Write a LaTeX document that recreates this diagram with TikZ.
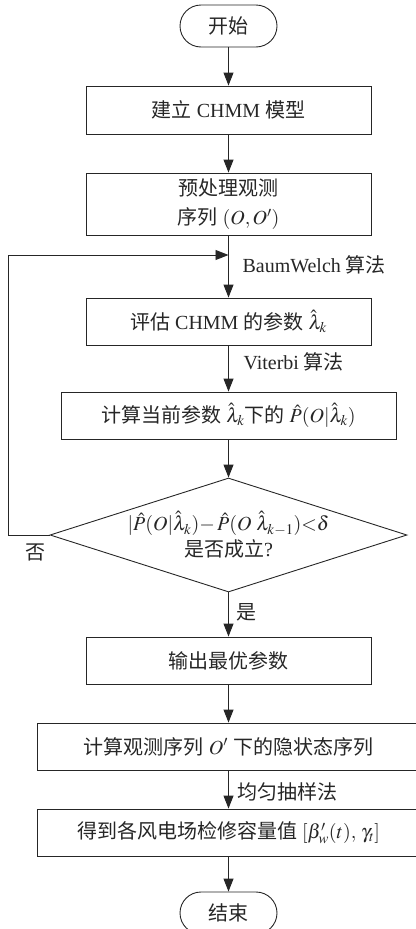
\documentclass[tikz,border=0pt]{standalone}
\usepackage{mathptmx}
\usepackage[no-math]{fontspec}
\setmainfont{Liberation Serif}
\newfontfamily\cjk{Noto Sans CJK SC}
\newcommand{\zh}[1]{{\cjk #1}}
\usetikzlibrary{shapes.geometric}
\usetikzlibrary{arrows.meta}

\begin{document}
\begin{tikzpicture}[x=1pt, y=-1pt,
	every node/.style={font=\fontsize{20}{29}\selectfont, text=black!85},
	term/.style={draw=black!85, line width=0.9pt, rounded corners=21pt, minimum width=97pt, minimum height=42pt, inner sep=0pt},
	proc/.style={draw=black!85, line width=0.9pt, minimum width=285pt, minimum height=48pt, align=center, inner sep=0pt},
	wide/.style={proc, minimum width=383pt},
	dec/.style={draw=black!85, line width=0.9pt, diamond, aspect=3.13, minimum width=357pt, minimum height=114pt, align=center, inner sep=0pt},
	arr/.style={draw=black!85, line width=0.9pt, -{Triangle[length=13pt,width=10pt]}}]

	\useasboundingbox (0,0) rectangle (415,929);
	% Terminals %
	\node [term] (start) at (228.5,26) {\zh{开始}};
	\node [term] (stop) at (228.5,913) {\zh{结束}};
	% Steps %
	\node [proc] (build) at (228.5,110) {\zh{建立} CHMM \zh{模型}};
	\node [proc, minimum height=62pt] (prep) at (228.5,204) {\zh{预处理观测}\\\zh{序列} $(O,O')$};
	\node [proc, minimum height=47pt] (eval) at (228.5,321.5) {\zh{评估} CHMM \zh{的参数} $\hat{\lambda}_k$};
	\node [proc, minimum width=335pt, minimum height=47pt] (calc) at (228.5,415.5) {\zh{计算当前参数} $\hat{\lambda}_k$\zh{下的} $\hat{P}(O|\hat{\lambda}_k)$};
	% Test %
	\node [dec, font=\fontsize{20}{26}\selectfont] (check) at (228.5,535) {$|\hat{P}(O|\hat{\lambda}_k){-}\,\hat{P}(O\ \hat{\lambda}_{k-1}){<}\delta$\\\zh{是否成立}?};
	\node [proc, minimum height=47pt] (output) at (228.5,660.5) {\zh{输出最优参数}};
	\node [wide, minimum height=47pt] (hidden) at (228.5,746.5) {\zh{计算观测序列} $O'$ \zh{下的隐状态序列}};
	\node [wide, minimum height=47pt] (result) at (228.5,832.5) {\zh{得到各风电场检修容量值} $[\beta_w'(t),\,\gamma_t]$};
	% Arrows %
	\draw [arr] (start) -- (build);
	\draw [arr] (build) -- (prep);
	\draw [arr] (prep) -- (eval);
	\draw [arr] (eval) -- (calc);
	\draw [arr] (calc) -- (check);
	\draw [arr] (check) -- (output);
	\draw [arr] (output) -- (hidden);
	\draw [arr] (hidden) -- (result);
	\draw [arr] (result) -- (stop);
	% Loop back %
	\coordinate (join) at (228.5,255);
	\coordinate (corner) at (8,535);
	\draw [arr] (check.west) -- (corner) |- (join);
	% Labels %
	\node [anchor=west] (bw) at (239,265) {BaumWelch \zh{算法}};
	\node [anchor=west] (vt) at (240,362) {Viterbi \zh{算法}};
	\node [anchor=west] (yes) at (233,612) {\zh{是}};
	\node (no) at (35,552) {\zh{否}};
	\node [anchor=west] (unif) at (234,792) {\zh{均匀抽样法}};
\end{tikzpicture}
\end{document}
